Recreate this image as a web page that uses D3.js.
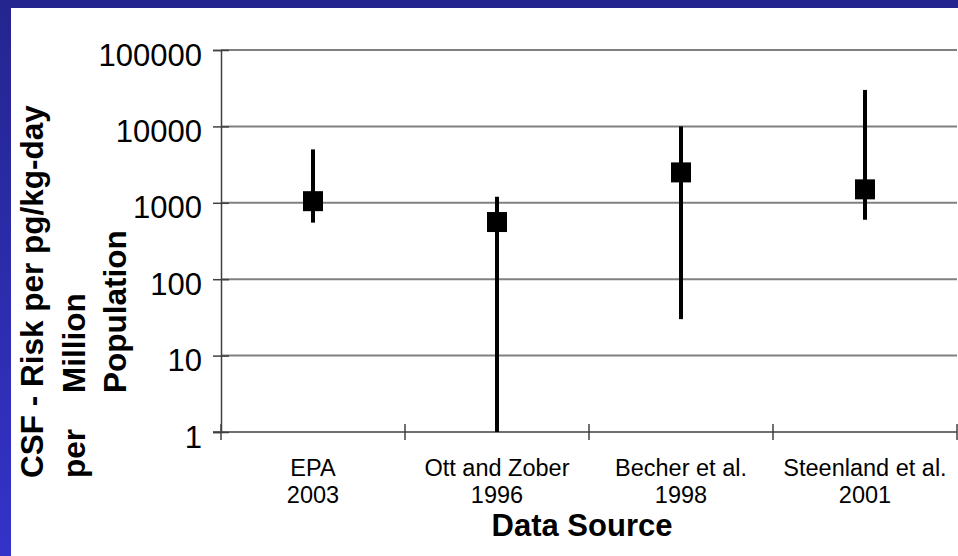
<!DOCTYPE html>
<html>
<head>
<meta charset="utf-8">
<script src="https://cdn.jsdelivr.net/npm/d3@7"></script>
<style>
    html, body { margin: 0; padding: 0; background: #fff; }
    svg { display: block; font-family: "Liberation Sans", Arial, sans-serif; }
</style>
</head>
<body>
<svg id="chart"></svg>
<script>
const sources = ["EPA", "Ott and Zober", "Becher et al.", "Steenland et al."];
const years = ["2003", "1996", "1998", "2001"];
const estimates = [1050, 560, 2500, 1500];
const lowerBounds = [550, 1, 30, 600];
const upperBounds = [5000, 1200, 10000, 30000];
const yTicks = [1, 10, 100, 1000, 10000, 100000];

const width = 958;
const height = 556;
const margin = { top: 50, right: 1, bottom: 124, left: 221 };

const data = sources.map((s, i) => ({
    source: s,
    year: years[i],
    est: estimates[i],
    lo: lowerBounds[i],
    hi: upperBounds[i],
}));

const svg = d3.select("#chart").attr("width", width).attr("height", height);

// Blue frame (top + left)
const grad = svg.append("defs").append("linearGradient")
    .attr("id", "leftbar")
    .attr("x1", 0).attr("y1", 0).attr("x2", 0).attr("y2", 1);
grad.append("stop").attr("offset", "0%").attr("stop-color", "#25258f");
grad.append("stop").attr("offset", "100%").attr("stop-color", "#3333c9");

svg.append("rect").attr("x", 0).attr("y", 0).attr("width", 11).attr("height", height).attr("fill", "url(#leftbar)");
svg.append("rect").attr("x", 0).attr("y", 0).attr("width", width).attr("height", 8).attr("fill", "#25258f");

const plotW = width - margin.left - margin.right;
const plotH = height - margin.top - margin.bottom;

const x = d3.scaleBand().domain(sources).range([0, plotW]);
const y = d3.scaleLog().domain([1, 100000]).range([plotH, 0]);

const g = svg.append("g").attr("transform", `translate(${margin.left},${margin.top})`);

// Gridlines
g.append("g")
    .selectAll("line")
    .data(yTicks.slice(1))
    .enter()
    .append("line")
    .attr("x1", 0)
    .attr("x2", plotW)
    .attr("y1", d => y(d))
    .attr("y2", d => y(d))
    .attr("stroke", "#808080")
    .attr("stroke-width", 2);

// Y axis
const yAxis = g.append("g")
    .call(d3.axisLeft(y).tickValues(yTicks).tickFormat(d3.format("d")).tickSize(8).tickPadding(11));
yAxis.select(".domain").attr("stroke", "#404040").attr("stroke-width", 1.5);
yAxis.selectAll(".tick line").attr("stroke", "#404040").attr("stroke-width", 1.5).attr("x2", -8).attr("x1", 8);
yAxis.selectAll(".tick text")
    .attr("dy", 15)
    .attr("fill", "#000")
    .style("font-size", "31px")
    .style("font-family", "'Liberation Sans', Arial, sans-serif");

// X axis: line with ticks at band boundaries
const xAxis = g.append("g").attr("transform", `translate(0,${plotH})`);
xAxis.append("line")
    .attr("x1", -8).attr("x2", plotW)
    .attr("stroke", "#404040").attr("stroke-width", 1.5);
const bounds = sources.map(s => x(s)).concat([x(sources[sources.length - 1]) + x.bandwidth()]);
xAxis.selectAll(".btick")
    .data(bounds)
    .enter()
    .append("line")
    .attr("class", "btick")
    .attr("x1", d => d).attr("x2", d => d)
    .attr("y1", -8).attr("y2", 8)
    .attr("stroke", "#404040").attr("stroke-width", 1.5);

const labels = xAxis.selectAll(".xlab")
    .data(data)
    .enter()
    .append("text")
    .attr("class", "xlab")
    .attr("text-anchor", "middle")
    .style("font-size", "23.5px")
    .attr("fill", "#000");
labels.append("tspan")
    .attr("x", d => x(d.source) + x.bandwidth() / 2)
    .attr("y", 44)
    .text(d => d.source);
labels.append("tspan")
    .attr("x", d => x(d.source) + x.bandwidth() / 2)
    .attr("y", 71)
    .text(d => d.year);

// Error bars
g.selectAll(".whisker")
    .data(data)
    .enter()
    .append("line")
    .attr("class", "whisker")
    .attr("x1", d => x(d.source) + x.bandwidth() / 2)
    .attr("x2", d => x(d.source) + x.bandwidth() / 2)
    .attr("y1", d => y(d.lo))
    .attr("y2", d => y(d.hi))
    .attr("stroke", "#000")
    .attr("stroke-width", 4);

// Point estimates
g.selectAll(".pt")
    .data(data)
    .enter()
    .append("rect")
    .attr("class", "pt")
    .attr("x", d => x(d.source) + x.bandwidth() / 2 - 10)
    .attr("y", d => y(d.est) - 10)
    .attr("width", 20)
    .attr("height", 20)
    .attr("fill", "#000");

// Axis titles
svg.append("text")
    .attr("x", 582)
    .attr("y", 536)
    .attr("text-anchor", "middle")
    .style("font-size", "31px")
    .style("font-weight", "bold")
    .text("Data Source");

const yTitle = [
    { text: "CSF - Risk per pg/kg-day", base: 43, start: 478 },
    { text: "per", base: 85, start: 478 },
    { text: "Million", base: 85, start: 393 },
    { text: "Population", base: 126, start: 393 },
];
svg.selectAll(".ytitle")
    .data(yTitle)
    .enter()
    .append("text")
    .attr("class", "ytitle")
    .attr("transform", d => `translate(${d.base},${d.start}) rotate(-90)`)
    .style("font-size", "31.5px")
    .style("font-weight", "bold")
    .text(d => d.text);
</script>
</body>
</html>
